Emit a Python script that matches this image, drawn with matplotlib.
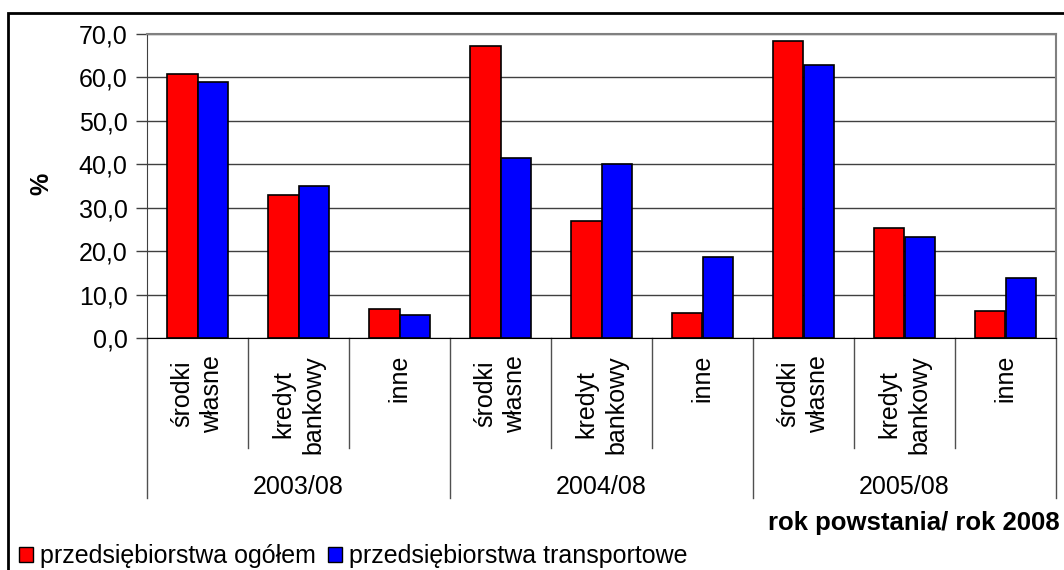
import numpy as np
import matplotlib
matplotlib.use("Agg")
import matplotlib.pyplot as plt
import matplotlib.patches as mpatches
from matplotlib.transforms import blended_transform_factory

plt.rcParams['font.family'] = ['Liberation Sans', 'DejaVu Sans']

# data
groups = ['2003/08', '2004/08', '2005/08']
kinds = ['środki\nwłasne', 'kredyt\nbankowy', 'inne']
ogolem = [60.8, 32.9, 6.7, 67.2, 27.0, 5.8, 68.3, 25.2, 6.3]
transport = [59.0, 35.0, 5.4, 41.3, 40.0, 18.6, 62.9, 23.2, 13.9]
series_names = ['przedsiębiorstwa ogółem', 'przedsiębiorstwa transportowe']
yticks = [0, 10, 20, 30, 40, 50, 60, 70]

W, H = 1064, 570
fs = 18
fig = plt.figure(figsize=(W / 100, H / 100), dpi=100)
ax = fig.add_axes([147 / W, 1 - 338 / H, (1056 - 147) / W, (338 - 33.7) / H])

x = np.arange(len(ogolem))
bw = 0.3
ax.bar(x - bw / 2, ogolem, bw, color='#ff0000', edgecolor='black', linewidth=1.2, zorder=3)
ax.bar(x + bw / 2, transport, bw, color='#0000ff', edgecolor='black', linewidth=1.2, zorder=3)

ax.set_xlim(-0.5, len(x) - 0.5)
ax.set_ylim(0, 70)
ax.set_yticks(yticks)
ax.set_yticklabels([('%.1f' % v).replace('.', ',') for v in yticks], fontsize=fs)
ax.tick_params(axis='y', length=8, width=1, color='#404040', pad=6)
ax.set_xticks([])
ax.yaxis.grid(True, color='#404040', linewidth=1)
ax.set_axisbelow(True)

for s in ['top', 'right']:
    ax.spines[s].set_color('#808080')
    ax.spines[s].set_linewidth(1.5)
ax.spines['left'].set_color('#404040')
ax.spines['bottom'].set_color('black')
ax.spines['bottom'].set_zorder(4)

# category axis below the plot
tr = blended_transform_factory(ax.transData, fig.transFigure)
def fy(py):
    return 1 - py / H

for k in range(len(x) + 1):
    xb = k - 0.5
    bottom = 498 if k % 3 == 0 else 448
    ax.plot([xb, xb], [fy(338), fy(bottom)], color='#505050', lw=1,
            transform=tr, clip_on=False)

for i in range(len(x)):
    ax.text(i, fy(355), kinds[i % 3], transform=tr, rotation=90, ha='center',
            va='top', multialignment='center', fontsize=fs, linespacing=1.3)

for g, name in enumerate(groups):
    ax.text(g * 3 + 1, fy(487), name, transform=tr, ha='center', va='center', fontsize=fs)

fig.text(1060 / W, fy(523), 'rok powstania/ rok 2008', ha='right', va='center',
         fontsize=18.5, fontweight='bold')
fig.text(41 / W, fy(184), '%', rotation=90, ha='center', va='center',
         fontsize=fs, fontweight='bold')

handles = [mpatches.Patch(facecolor='#ff0000', edgecolor='black'),
           mpatches.Patch(facecolor='#0000ff', edgecolor='black')]
fig.legend(handles, series_names, loc='center left', bbox_to_anchor=(19 / W, fy(556)),
           ncol=2, frameon=False, fontsize=fs, handlelength=0.56, handleheight=0.56,
           handletextpad=0.28, columnspacing=0.5, borderaxespad=0.0, borderpad=0.0)

# chart border
fig.patches.append(mpatches.Rectangle((8 / W, -0.2), 1.2, fy(13) + 0.2, transform=fig.transFigure,
                                      fill=False, edgecolor='black', linewidth=2))

fig.savefig('out.png', dpi=100)
